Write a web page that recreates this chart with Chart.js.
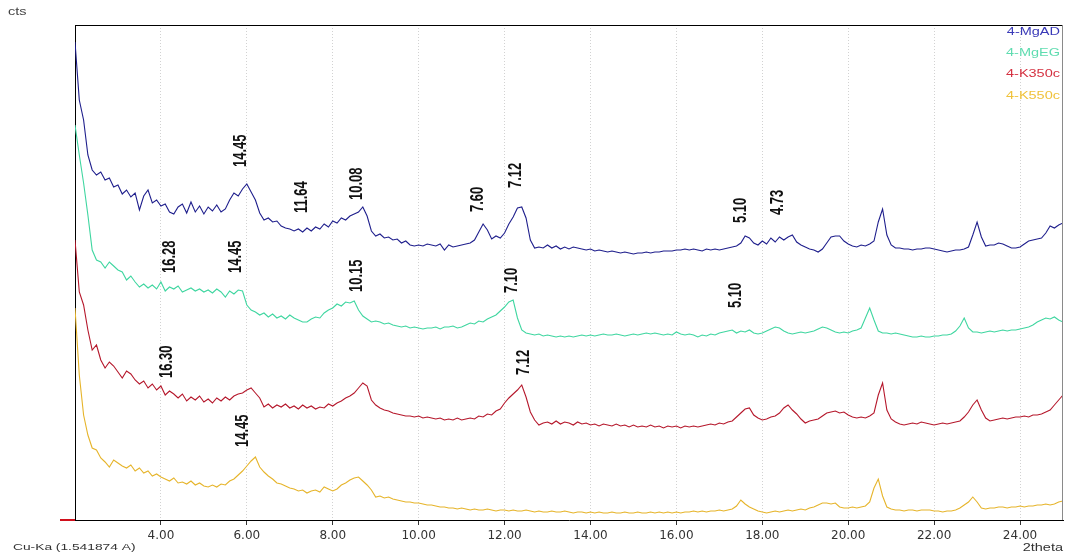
<!DOCTYPE html>
<html>
<head>
<meta charset="utf-8">
<script src="https://cdn.jsdelivr.net/npm/chart.js@4.4.1/dist/chart.umd.min.js"></script>
<style>
  html, body { margin: 0; padding: 0; background: #fff; }
  #xrd { display: block; }
</style>
</head>
<body>
<canvas id="xrd" width="1065" height="558"></canvas>
<script>
// 2theta positions (deg), one row per degree
const twoTheta = [
  2.0, 2.1, 2.2, 2.3, 2.4, 2.5, 2.6, 2.7, 2.8, 2.9,
  3.0, 3.1, 3.2, 3.3, 3.4, 3.5, 3.6, 3.7, 3.8, 3.9,
  4.0, 4.1, 4.2, 4.3, 4.4, 4.5, 4.6, 4.7, 4.8, 4.9,
  5.0, 5.1, 5.2, 5.3, 5.4, 5.5, 5.6, 5.7, 5.8, 5.9,
  6.0, 6.1, 6.2, 6.3, 6.4, 6.5, 6.6, 6.7, 6.8, 6.9,
  7.0, 7.1, 7.2, 7.3, 7.4, 7.5, 7.6, 7.7, 7.8, 7.9,
  8.0, 8.1, 8.2, 8.3, 8.4, 8.5, 8.6, 8.7, 8.8, 8.9,
  9.0, 9.1, 9.2, 9.3, 9.4, 9.5, 9.6, 9.7, 9.8, 9.9,
  10.0, 10.1, 10.2, 10.3, 10.4, 10.5, 10.6, 10.7, 10.8, 10.9,
  11.0, 11.1, 11.2, 11.3, 11.4, 11.5, 11.6, 11.7, 11.8, 11.9,
  12.0, 12.1, 12.2, 12.3, 12.4, 12.5, 12.6, 12.7, 12.8, 12.9,
  13.0, 13.1, 13.2, 13.3, 13.4, 13.5, 13.6, 13.7, 13.8, 13.9,
  14.0, 14.1, 14.2, 14.3, 14.4, 14.5, 14.6, 14.7, 14.8, 14.9,
  15.0, 15.1, 15.2, 15.3, 15.4, 15.5, 15.6, 15.7, 15.8, 15.9,
  16.0, 16.1, 16.2, 16.3, 16.4, 16.5, 16.6, 16.7, 16.8, 16.9,
  17.0, 17.1, 17.2, 17.3, 17.4, 17.5, 17.6, 17.7, 17.8, 17.9,
  18.0, 18.1, 18.2, 18.3, 18.4, 18.5, 18.6, 18.7, 18.8, 18.9,
  19.0, 19.1, 19.2, 19.3, 19.4, 19.5, 19.6, 19.7, 19.8, 19.9,
  20.0, 20.1, 20.2, 20.3, 20.4, 20.5, 20.6, 20.7, 20.8, 20.9,
  21.0, 21.1, 21.2, 21.3, 21.4, 21.5, 21.6, 21.7, 21.8, 21.9,
  22.0, 22.1, 22.2, 22.3, 22.4, 22.5, 22.6, 22.7, 22.8, 22.9,
  23.0, 23.1, 23.2, 23.3, 23.4, 23.5, 23.6, 23.7, 23.8, 23.9,
  24.0, 24.1, 24.2, 24.3, 24.4, 24.5, 24.6, 24.7, 24.8, 24.9,
  25.0
];

// intensities (cts, offset stacked as in the original plot)
const mgAD = [
  478, 420, 400, 365, 350, 345, 348, 340, 342, 333,
  335, 326, 330, 323, 327, 310, 324, 330, 317, 320,
  314, 316, 308, 306, 313, 316, 307, 318, 308, 314,
  306, 313, 309, 315, 308, 311, 320, 327, 324, 331,
  336, 328, 320, 307, 300, 302, 298, 299, 294, 292,
  291, 289, 291, 288, 292, 289, 293, 291, 296, 293,
  299, 297, 302, 300, 304, 306, 308, 313, 304, 289,
  284, 286, 282, 283, 280, 281, 277, 279, 275, 274,
  275, 274, 276, 275, 274, 276, 270, 275, 273, 274,
  275, 276, 277, 280, 288, 296, 290, 281, 284, 282,
  287, 296, 303, 312, 313, 302, 280, 272, 273, 272,
  275, 272, 274, 271, 273, 271, 273, 272, 271, 270,
  271, 269, 270, 269, 268, 269, 268, 267, 268, 267,
  266, 267, 267, 268, 267, 268, 268, 269, 269, 269,
  270, 270, 271, 270, 271, 270, 269, 271, 270, 271,
  270, 271, 272, 273, 274, 277, 284, 282, 277, 275,
  279, 276, 282, 278, 283, 280, 283, 285, 278, 275,
  273, 271, 270, 268, 271, 277, 283, 284, 284, 279,
  276, 274, 273, 275, 274, 276, 279, 298, 311, 285,
  275, 272, 272, 271, 271, 270, 271, 271, 272, 272,
  271, 270, 269, 268, 269, 270, 270, 271, 273, 285,
  298, 283, 274, 275, 275, 277, 276, 274, 272, 272,
  273, 276, 279, 280, 281, 282, 287, 294, 292, 295,
  297
];

const mgEG = [
  395, 365, 337, 305, 270, 260, 258, 252, 258, 254,
  250, 248, 240, 244, 238, 233, 236, 232, 235, 231,
  238, 229, 233, 231, 234, 228, 230, 232, 229, 231,
  228, 230, 227, 231, 228, 223, 229, 226, 230, 229,
  215, 210, 208, 205, 207, 203, 206, 202, 204, 201,
  205, 202, 200, 198, 198, 201, 203, 202, 207, 210,
  212, 216, 214, 218, 217, 219, 210, 204, 201, 198,
  199, 198, 196, 197, 195, 194, 193, 194, 192, 193,
  192, 191, 192, 192, 193, 191, 193, 193, 194, 192,
  193, 195, 197, 196, 199, 198, 201, 203, 205, 209,
  213, 218, 220, 202, 190, 187, 186, 185, 186, 184,
  185, 184, 183, 184, 183, 184, 183, 184, 185, 184,
  185, 184, 185, 186, 185, 185, 186, 185, 184, 185,
  186, 185, 186, 187, 186, 187, 186, 185, 186, 185,
  188, 186, 185, 186, 185, 183, 185, 184, 186, 185,
  187, 188, 189, 190, 187, 189, 188, 190, 187, 186,
  187, 189, 191, 193, 192, 189, 187, 186, 187, 188,
  187, 188, 189, 191, 193, 192, 190, 188, 187, 188,
  187, 189, 190, 192, 202, 212, 200, 189, 187, 187,
  186, 187, 186, 185, 184, 183, 183, 184, 183, 183,
  184, 184, 185, 185, 186, 189, 194, 202, 192, 188,
  188, 187, 188, 189, 188, 189, 190, 189, 190, 190,
  191, 192, 193, 195, 198, 200, 202, 201, 203, 200,
  198
];

const k350c = [
  280, 228, 215, 190, 170, 175, 160, 152, 158, 154,
  148, 142, 149, 146, 140, 136, 139, 132, 136, 130,
  134, 125, 129, 126, 122, 126, 119, 123, 120, 124,
  118, 121, 117, 122, 119, 123, 120, 124, 126, 127,
  130, 132, 127, 122, 113, 116, 112, 115, 113, 116,
  112, 114, 111, 115, 112, 114, 111, 113, 112, 116,
  114, 117, 119, 122, 124, 127, 132, 137, 134, 120,
  115, 112, 110, 109, 107, 106, 105, 104, 104, 103,
  104, 102, 103, 102, 101, 102, 100, 101, 100, 102,
  100, 101, 102, 101, 104, 103, 106, 105, 109, 111,
  117, 122, 126, 130, 135, 123, 108, 100, 95, 97,
  98, 96, 99, 96, 98, 97, 95, 98, 96, 97,
  95, 96, 94, 96, 95, 94, 96, 94, 95, 93,
  95, 93, 94, 93, 95, 93, 94, 92, 94, 93,
  94, 92, 94, 93, 94, 93, 94, 95, 96, 95,
  97, 96, 98, 99, 103, 107, 111, 112, 105, 102,
  100, 101, 103, 104, 107, 112, 115, 110, 106, 101,
  97, 99, 100, 101, 104, 107, 108, 109, 107, 108,
  105, 103, 102, 103, 102, 104, 107, 125, 137, 110,
  101, 98, 96, 95, 96, 97, 96, 98, 97, 96,
  95, 96, 97, 96, 97, 98, 99, 103, 108, 115,
  120, 110, 102, 99, 100, 101, 102, 101, 102, 103,
  103, 104, 103, 105, 105, 106, 108, 110, 115, 120,
  125
];

const k550c = [
  212, 145, 105, 85, 72, 70, 62, 58, 53, 60,
  57, 54, 52, 55, 49, 52, 47, 49, 44, 46,
  43, 41, 39, 42, 37, 38, 36, 39, 35, 37,
  34, 33, 35, 33, 36, 35, 39, 41, 45, 49,
  54, 59, 63, 53, 48, 44, 41, 37, 36, 34,
  32, 31, 29, 30, 27, 29, 30, 28, 33, 31,
  29, 31, 35, 37, 40, 42, 43, 39, 35, 30,
  23, 24, 22, 23, 21, 20, 19, 18, 18, 17,
  17, 16, 15, 15, 14, 13, 13, 12, 12, 11,
  12, 11, 10, 11, 10, 10, 11, 10, 9, 10,
  10, 9, 10, 9, 9, 10, 9, 8, 9, 8,
  8, 9, 8, 8, 9, 8, 7, 8, 8, 7,
  8, 7, 8, 7, 7, 8, 7, 7, 8, 7,
  7, 8, 7, 7, 8, 7, 8, 7, 8, 7,
  8, 7, 8, 8, 9, 8, 9, 8, 9, 9,
  10, 9, 10, 11, 14, 20, 16, 13, 11, 9,
  8, 7, 8, 9, 8, 9, 10, 9, 10, 11,
  10, 12, 13, 15, 17, 17, 16, 17, 13, 12,
  12, 13, 12, 13, 14, 18, 32, 41, 24, 13,
  11, 10, 10, 9, 10, 10, 9, 10, 10, 10,
  9, 9, 8, 9, 9, 10, 12, 15, 18, 23,
  18, 12, 11, 12, 12, 13, 13, 12, 13, 13,
  14, 13, 14, 14, 15, 15, 16, 15, 16, 18,
  19
];

const seriesNames = ["4-MgAD", "4-MgEG", "4-K350c", "4-K550c"];
const seriesColors = ["#1e1e8c", "#3fd6a0", "#b5172b", "#e6b42a"];
const legendColors = ["#3a3ab8", "#5fdcb0", "#d43040", "#f0c23a"];
const tickAngles = [4, 6, 8, 10, 12, 14, 16, 18, 20, 22, 24];

// d-spacing labels: text, 2theta, cts at the foot of the label
const peakText  = ["14.45", "11.64", "10.08", "7.60", "7.12", "5.10", "4.73",
                   "16.28", "14.45", "10.15", "7.10", "5.10",
                   "16.30", "7.12",
                   "14.45"];
const peakAngle = [5.86, 7.27, 8.57, 11.38, 12.27, 17.49, 18.35,
                   4.21, 5.74, 8.57, 12.17, 17.38,
                   4.14, 12.45,
                   5.90];
const peakFoot  = [353, 307, 320, 308, 332, 297, 305,
                   247, 247, 228, 227, 212,
                   142, 145,
                   73];

const allSeries = [mgAD, mgEG, k350c, k550c];
const STRETCH = 1.45; // original bitmap is widened horizontally

const overlay = {
  id: "overlay",
  afterDraw(chart) {
    const ctx = chart.ctx;
    const area = chart.chartArea;
    const xs = chart.scales.x, ys = chart.scales.y;

    // frame: top and right edges
    ctx.save();
    ctx.strokeStyle = "#000";
    ctx.lineWidth = 1;
    ctx.beginPath();
    ctx.moveTo(area.left, area.top + 0.5);
    ctx.lineTo(area.right, area.top + 0.5);
    ctx.stroke();
    ctx.strokeStyle = "#8a8a8a";
    ctx.beginPath();
    ctx.moveTo(area.right - 0.5, area.top);
    ctx.lineTo(area.right - 0.5, area.bottom);
    ctx.stroke();
    // red zero marker left of the origin
    ctx.strokeStyle = "#d0101c";
    ctx.lineWidth = 2;
    ctx.beginPath();
    ctx.moveTo(area.left - 15, ys.getPixelForValue(0));
    ctx.lineTo(area.left, ys.getPixelForValue(0));
    ctx.stroke();
    ctx.restore();

    const stretched = (txt, x, y, font, color, align) => {
      ctx.save();
      ctx.translate(x, y);
      ctx.scale(STRETCH, 1);
      ctx.font = font;
      ctx.fillStyle = color;
      ctx.textAlign = align;
      ctx.textBaseline = "middle";
      ctx.fillText(txt, 0, 0);
      ctx.restore();
    };

    // axis captions
    stretched("cts", 8, 12, "10px 'Liberation Sans'", "#444", "left");
    stretched("Cu-Ka (1.541874 A)", 13, 547, "9.5px 'Liberation Sans'", "#333", "left");
    stretched("2theta", 1063, 548, "10px 'Liberation Sans'", "#333", "right");

    // legend, right aligned inside the plot
    const legendY = [32, 53, 74, 96];
    seriesNames.forEach((name, i) => {
      stretched(name, 1060, legendY[i], "10px 'Liberation Sans'", legendColors[i], "right");
    });

    // rotated d-spacing labels
    peakText.forEach((t, i) => {
      const px = xs.getPixelForValue(peakAngle[i]);
      const py = ys.getPixelForValue(peakFoot[i]);
      ctx.save();
      ctx.translate(px, py);
      ctx.scale(STRETCH, 1);
      ctx.rotate(-Math.PI / 2);
      ctx.font = "bold 13px 'Liberation Sans'";
      ctx.fillStyle = "#111";
      ctx.textAlign = "left";
      ctx.textBaseline = "middle";
      ctx.fillText(t, 0, 0);
      ctx.restore();
    });
  }
};

new Chart(document.getElementById("xrd"), {
  type: "line",
  data: {
    datasets: allSeries.map((vals, i) => ({
      label: seriesNames[i],
      data: twoTheta.map((a, j) => ({ x: a, y: vals[j] })),
      borderColor: seriesColors[i],
      borderWidth: 1.1,
      pointRadius: 0,
      fill: false,
      tension: 0
    }))
  },
  options: {
    responsive: false,
    animation: false,
    layout: { padding: { left: 75, top: 25, right: 2, bottom: 0 } },
    plugins: {
      legend: { display: false },
      tooltip: { enabled: false }
    },
    scales: {
      x: {
        type: "linear",
        min: 2,
        max: 25,
        afterBuildTicks: (s) => { s.ticks = tickAngles.map((v) => ({ value: v })); },
        afterFit: (s) => { s.height = 38; },
        ticks: {
          callback: (v) => Number(v).toFixed(2),
          font: { family: "DejaVu Sans", size: 12 },
          color: "#333",
          padding: 4,
          maxRotation: 0,
          autoSkip: false
        },
        grid: {
          color: "#d2d2d2",
          lineWidth: 1,
          tickLength: 5,
          tickColor: "#333",
          tickBorderDash: []
        },
        border: { color: "#000", width: 1, dash: [1, 2] }
      },
      y: {
        type: "linear",
        min: 0,
        max: 495,
        afterFit: (s) => { s.width = 0; },
        ticks: { display: false },
        grid: { display: false, drawTicks: false },
        border: { color: "#000", width: 1 }
      }
    }
  },
  plugins: [overlay]
});
</script>
</body>
</html>
